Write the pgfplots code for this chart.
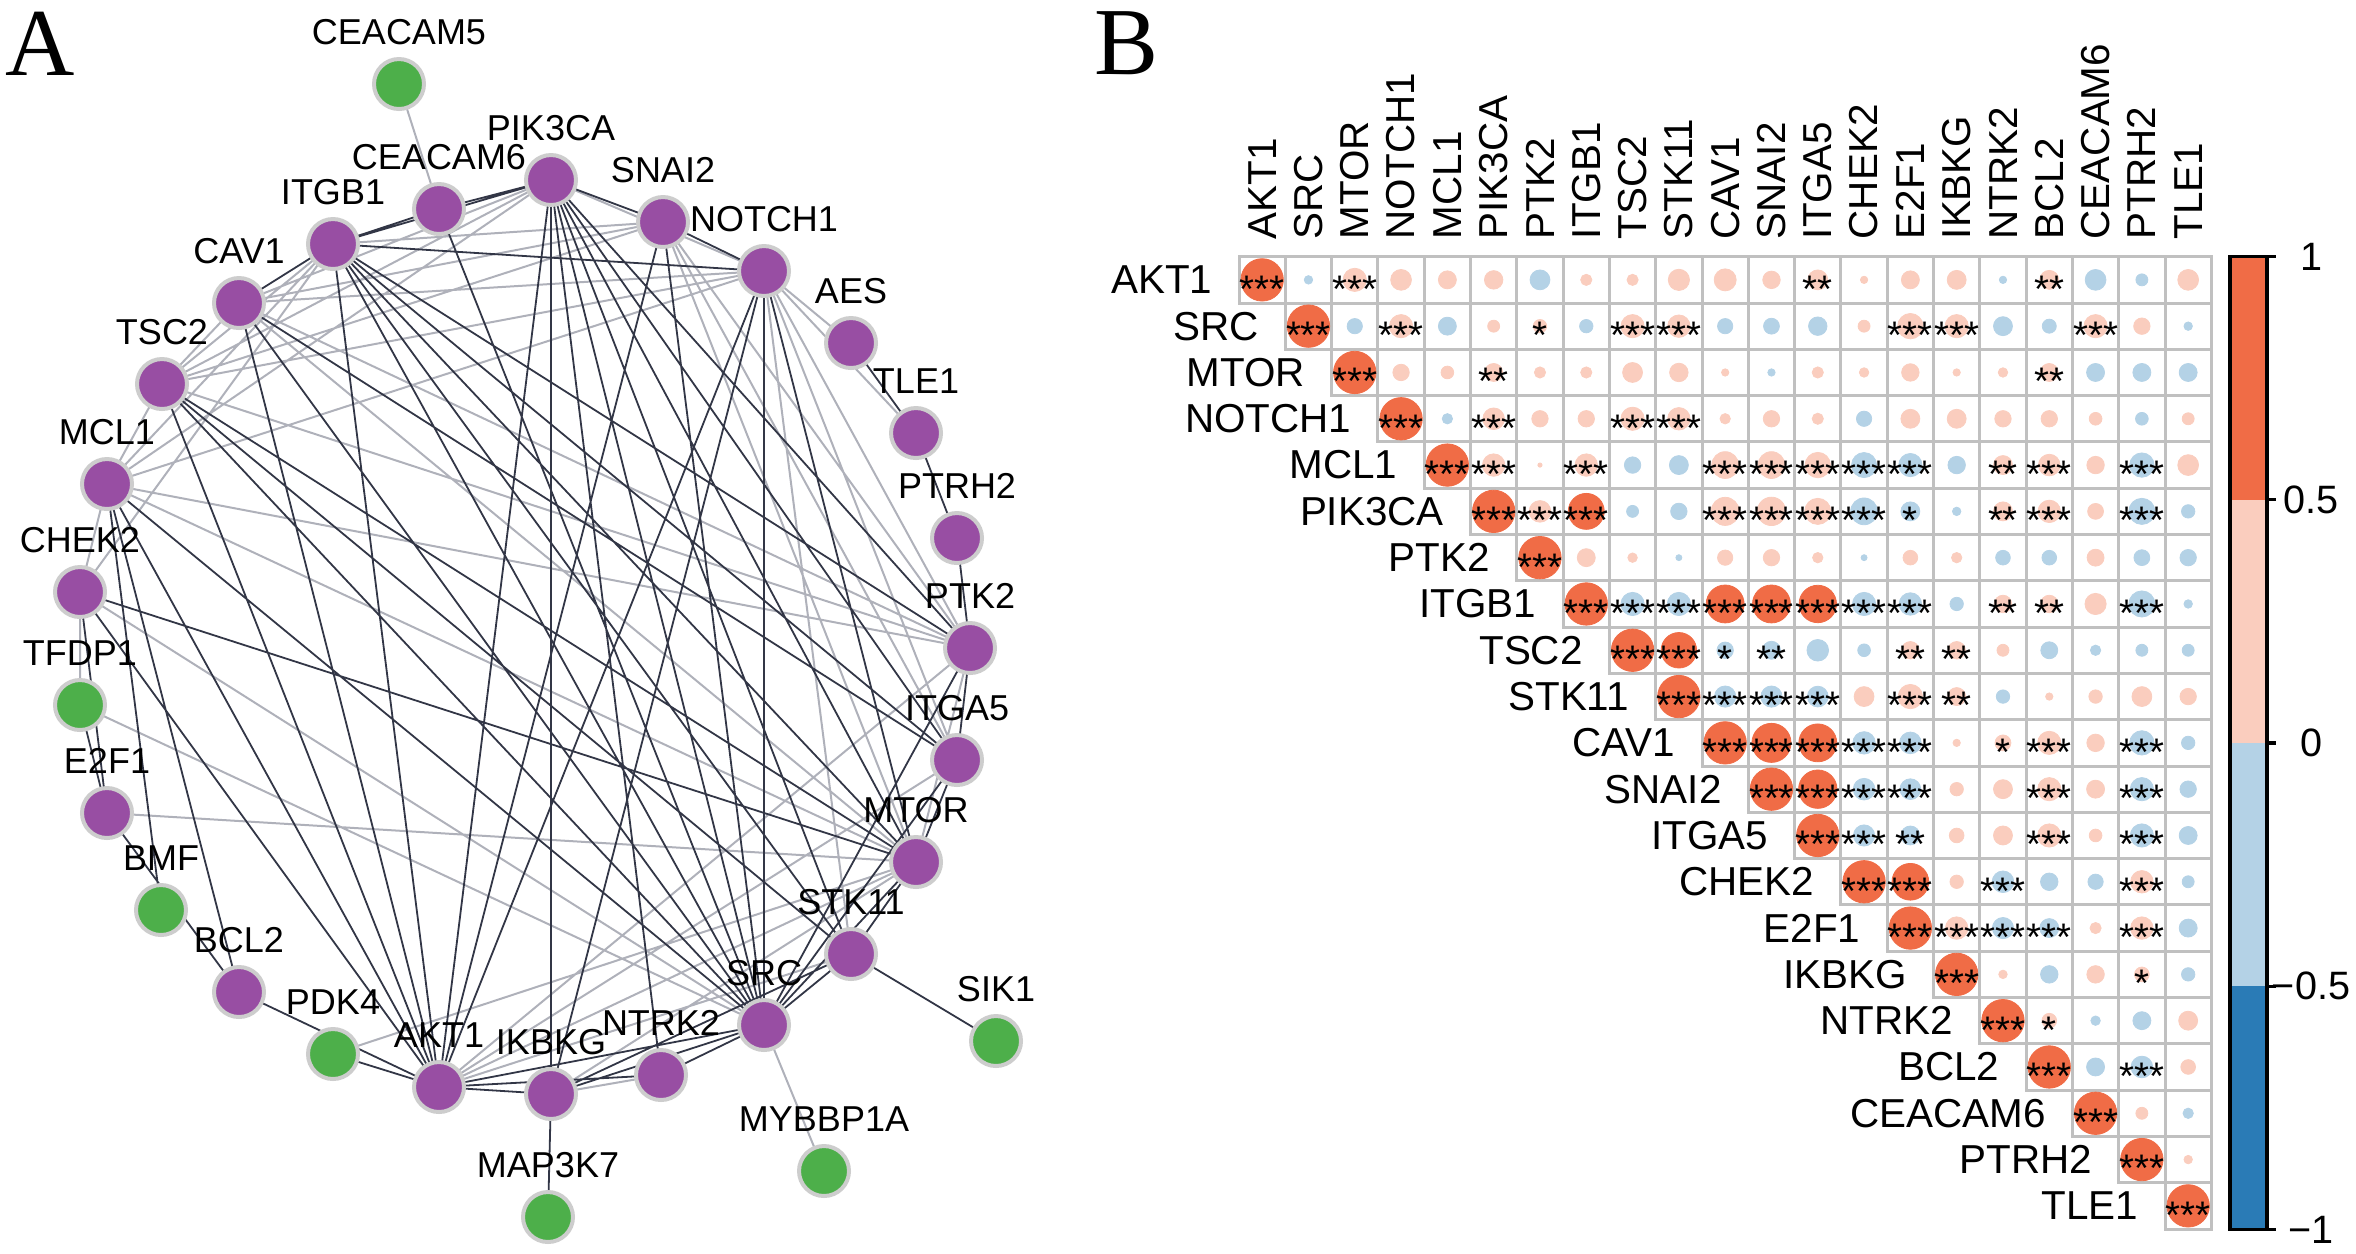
\documentclass[border=0pt]{standalone}
\usepackage{pgfplots}
\pgfplotsset{compat=1.18}
\usepackage{pgfplotstable}
\usepackage{fontspec}
\setmainfont{Liberation Sans}
\newfontfamily\serifff{Liberation Serif}
\definecolor{cOr}{RGB}{240,108,70}
\definecolor{cPk}{RGB}{250,205,190}
\definecolor{cLb}{RGB}{180,210,230}
\definecolor{cDb}{RGB}{42,123,182}
\definecolor{cGrid}{RGB}{192,192,192}
\definecolor{cDark}{RGB}{50,54,70}
\definecolor{cLight}{RGB}{175,177,186}
\definecolor{cPur}{RGB}{152,78,163}
\definecolor{cGrn}{RGB}{77,175,74}
\definecolor{cBord}{RGB}{205,205,205}
\newcommand\fB{\fontsize{10.1}{12}\selectfont}
\newcommand\fA{\fontsize{9}{11}\selectfont}

\pgfplotstableread{
r c v p
0 0 1 3
0 1 -0.04 0
0 2 0.30 3
0 3 0.24 0
0 4 0.18 0
0 5 0.19 0
0 6 -0.22 0
0 7 0.07 0
0 8 0.07 0
0 9 0.25 0
0 10 0.27 0
0 11 0.17 0
0 12 0.22 2
0 13 0.03 0
0 14 0.18 0
0 15 0.20 0
0 16 -0.03 0
0 17 0.20 2
0 18 -0.24 0
0 19 -0.08 0
0 20 0.24 0
1 1 1 3
1 2 -0.13 0
1 3 0.30 3
1 4 -0.18 0
1 5 0.08 0
1 6 0.10 1
1 7 -0.10 0
1 8 0.30 3
1 9 0.28 3
1 10 -0.13 0
1 11 -0.14 0
1 12 -0.19 0
1 13 0.08 0
1 14 0.36 3
1 15 0.30 3
1 16 -0.20 0
1 17 -0.11 0
1 18 0.30 3
1 19 0.15 0
1 20 -0.04 0
2 2 1 3
2 3 0.15 0
2 4 0.09 0
2 5 0.18 2
2 6 0.07 0
2 7 0.07 0
2 8 0.22 0
2 9 0.19 0
2 10 0.03 0
2 11 -0.03 0
2 12 0.07 0
2 13 0.05 0
2 14 0.17 0
2 15 0.03 0
2 16 0.05 0
2 17 0.18 2
2 18 -0.18 0
2 19 -0.18 0
2 20 -0.18 0
3 3 1 3
3 4 -0.06 0
3 5 0.26 3
3 6 0.15 0
3 7 0.15 0
3 8 0.30 3
3 9 0.28 3
3 10 0.06 0
3 11 0.15 0
3 12 0.07 0
3 13 -0.13 0
3 14 0.20 0
3 15 0.20 0
3 16 0.15 0
3 17 0.15 0
3 18 0.09 0
3 19 -0.09 0
3 20 0.08 0
4 4 1 3
4 5 0.28 3
4 6 0.01 0
4 7 0.28 3
4 8 -0.15 0
4 9 -0.20 0
4 10 0.40 3
4 11 0.40 3
4 12 0.36 3
4 13 -0.35 3
4 14 -0.30 3
4 15 -0.17 0
4 16 0.20 2
4 17 0.26 3
4 18 0.17 0
4 19 -0.33 3
4 20 0.24 0
5 5 1 3
5 6 0.26 3
5 7 0.72 3
5 8 -0.08 0
5 9 -0.15 0
5 10 0.44 3
5 11 0.45 3
5 12 0.38 3
5 13 -0.40 3
5 14 -0.20 1
5 15 -0.04 0
5 16 0.20 2
5 17 0.28 3
5 18 0.14 0
5 19 -0.38 3
5 20 -0.10 0
6 6 1 3
6 7 0.18 0
6 8 0.05 0
6 9 -0.02 0
6 10 0.13 0
6 11 0.15 0
6 12 0.06 0
6 13 -0.02 0
6 14 0.12 0
6 15 0.06 0
6 16 -0.12 0
6 17 -0.12 0
6 18 0.16 0
6 19 -0.14 0
6 20 -0.15 0
7 7 1 3
7 8 -0.30 3
7 9 -0.30 3
7 10 0.80 3
7 11 0.80 3
7 12 0.78 3
7 13 -0.30 3
7 14 -0.28 3
7 15 -0.10 0
7 16 0.17 2
7 17 0.17 2
7 18 0.25 0
7 19 -0.38 3
7 20 -0.04 0
8 8 1 3
8 9 0.70 3
8 10 -0.15 1
8 11 -0.18 2
8 12 -0.26 0
8 13 -0.09 0
8 14 0.17 2
8 15 0.17 2
8 16 0.08 0
8 17 -0.16 0
8 18 -0.06 0
8 19 -0.08 0
8 20 -0.08 0
9 9 1 3
9 10 -0.25 3
9 11 -0.25 3
9 12 -0.24 3
9 13 0.22 0
9 14 0.33 3
9 15 0.18 2
9 16 -0.10 0
9 17 0.03 0
9 18 0.10 0
9 19 0.22 0
9 20 0.15 0
10 10 1 3
10 11 0.85 3
10 12 0.80 3
10 13 -0.28 3
10 14 -0.26 3
10 15 0.03 0
10 16 0.14 1
10 17 0.30 3
10 18 0.17 0
10 19 -0.33 3
10 20 -0.10 0
11 11 1 3
11 12 0.82 3
11 13 -0.26 3
11 14 -0.24 3
11 15 0.10 0
11 16 0.20 0
11 17 0.30 3
11 18 0.18 0
11 19 -0.30 3
11 20 -0.15 0
12 12 1 3
12 13 -0.25 3
12 14 -0.20 2
12 15 0.12 0
12 16 0.20 0
12 17 0.30 3
12 18 0.09 0
12 19 -0.30 3
12 20 -0.18 0
13 13 1 3
13 14 0.75 3
13 15 0.10 0
13 16 -0.26 3
13 17 -0.17 0
13 18 -0.13 0
13 19 0.28 3
13 20 -0.08 0
14 14 1 3
14 15 0.28 3
14 16 -0.25 3
14 17 -0.20 3
14 18 0.07 0
14 19 0.28 3
14 20 -0.18 0
15 15 1 3
15 16 0.04 0
15 17 -0.17 0
15 18 0.17 0
15 19 0.12 1
15 20 -0.10 0
16 16 1 3
16 17 0.12 1
16 18 -0.05 0
16 19 -0.18 0
16 20 0.20 0
17 17 1 3
17 18 -0.18 0
17 19 -0.26 3
17 20 0.12 0
18 18 1 3
18 19 0.08 0
18 20 -0.06 0
19 19 1 3
19 20 0.04 0
20 20 1 3
}\corrtab

\pgfplotstableread{
i name
0 AKT1
1 SRC
2 MTOR
3 NOTCH1
4 MCL1
5 PIK3CA
6 PTK2
7 ITGB1
8 TSC2
9 STK11
10 CAV1
11 SNAI2
12 ITGA5
13 CHEK2
14 E2F1
15 IKBKG
16 NTRK2
17 BCL2
18 CEACAM6
19 PTRH2
20 TLE1
}\genes

\pgfplotstableread{
x y g name
399 84 1 CEACAM5
551 180 0 PIK3CA
439 209 0 CEACAM6
663 222 0 SNAI2
333 244 0 ITGB1
764 271 0 NOTCH1
239 303 0 CAV1
851 343 0 AES
162 384 0 TSC2
916 433 0 TLE1
107 484 0 MCL1
957 538 0 PTRH2
80 592 0 CHEK2
970 648 0 PTK2
80 705 1 TFDP1
957 760 0 ITGA5
107 813 0 E2F1
916 862 0 MTOR
161 910 1 BMF
851 954 0 STK11
239 992 0 BCL2
764 1025 0 SRC
996 1041 1 SIK1
333 1054 1 PDK4
661 1075 0 NTRK2
439 1087 0 AKT1
551 1094 0 IKBKG
824 1171 1 MYBBP1A
548 1217 1 MAP3K7
}\netnodes

\pgfplotstableread{
v lab
1 1
0.5 0.5
0 0
-0.5 −0.5
-1 −1
}\cbticks

\pgfplotsset{
  corrc/.style={scatter, only marks, mark=*, point meta=\thisrow{v},
    scatter/use mapped color={draw=#1, fill=#1},
    visualization depends on={5.3*sqrt(abs(\thisrow{v}))\as\rad},
    scatter/@pre marker code/.append style={/tikz/mark size=\rad},
    mark options={line width=0.2pt}},
  starplot/.style={draw=none, mark=none, nodes near coords={#1},
    every node near coord/.append style={anchor=center, inner sep=0pt, yshift=-2.3pt, text=black, font=\fontsize{9.6}{10}\selectfont}},
}

\begin{document}
\begin{tikzpicture}
\useasboundingbox (0,0) rectangle (589pt,-313.25pt);
\begin{axis}[at={(0pt,0pt)}, anchor=north west, scale only axis,
  width=589pt, height=313.25pt, xmin=0, xmax=2356, ymin=0, ymax=1253,
  y dir=reverse, hide axis, clip=false, unbounded coords=jump]

% ---------- Panel A: network ----------
\addplot[cLight, line width=0.5pt, mark=none] coordinates {
(399,84)(439,209) (nan,nan)
(333,244)(663,222) (nan,nan)
(333,244)(107,484) (nan,nan)
(333,244)(162,384) (nan,nan)
(551,180)(764,271) (nan,nan)
(551,180)(239,303) (nan,nan)
(551,180)(162,384) (nan,nan)
(551,180)(107,484) (nan,nan)
(663,222)(239,303) (nan,nan)
(663,222)(916,862) (nan,nan)
(663,222)(162,384) (nan,nan)
(663,222)(957,760) (nan,nan)
(663,222)(970,648) (nan,nan)
(764,271)(239,303) (nan,nan)
(764,271)(162,384) (nan,nan)
(764,271)(107,484) (nan,nan)
(764,271)(851,343) (nan,nan)
(764,271)(916,433) (nan,nan)
(764,271)(851,954) (nan,nan)
(764,271)(970,648) (nan,nan)
(764,271)(957,760) (nan,nan)
(239,303)(162,384) (nan,nan)
(239,303)(916,862) (nan,nan)
(239,303)(970,648) (nan,nan)
(162,384)(970,648) (nan,nan)
(162,384)(107,484) (nan,nan)
(107,484)(916,862) (nan,nan)
(107,484)(970,648) (nan,nan)
(107,484)(80,592) (nan,nan)
(80,592)(80,705) (nan,nan)
(80,592)(333,244) (nan,nan)
(80,592)(764,1025) (nan,nan)
(107,813)(916,862) (nan,nan)
(80,705)(764,1025) (nan,nan)
(333,1054)(916,862) (nan,nan)
(439,1087)(851,954) (nan,nan)
(439,1087)(916,862) (nan,nan)
(439,1087)(957,760) (nan,nan)
(439,1087)(970,648) (nan,nan)
(551,1094)(661,1075) (nan,nan)
(551,1094)(916,862) (nan,nan)
(764,1025)(824,1171) (nan,nan)
(916,862)(970,648)
};
\addplot[cDark, line width=0.45pt, mark=none] coordinates {
(439,209)(333,244) (nan,nan)
(439,209)(551,180) (nan,nan)
(439,209)(764,1025) (nan,nan)
(333,244)(551,180) (nan,nan)
(333,244)(239,303) (nan,nan)
(333,244)(764,271) (nan,nan)
(333,244)(439,1087) (nan,nan)
(333,244)(764,1025) (nan,nan)
(333,244)(916,862) (nan,nan)
(333,244)(851,954) (nan,nan)
(333,244)(957,760) (nan,nan)
(333,244)(970,648) (nan,nan)
(551,180)(663,222) (nan,nan)
(551,180)(439,1087) (nan,nan)
(551,180)(551,1094) (nan,nan)
(551,180)(661,1075) (nan,nan)
(551,180)(764,1025) (nan,nan)
(551,180)(851,954) (nan,nan)
(551,180)(916,862) (nan,nan)
(551,180)(957,760) (nan,nan)
(551,180)(970,648) (nan,nan)
(663,222)(764,271) (nan,nan)
(663,222)(439,1087) (nan,nan)
(663,222)(764,1025) (nan,nan)
(764,271)(439,1087) (nan,nan)
(764,271)(764,1025) (nan,nan)
(764,271)(916,862) (nan,nan)
(764,271)(551,1094) (nan,nan)
(851,343)(916,433) (nan,nan)
(916,433)(957,538) (nan,nan)
(957,538)(970,648) (nan,nan)
(239,303)(439,1087) (nan,nan)
(239,303)(764,1025) (nan,nan)
(239,303)(957,760) (nan,nan)
(162,384)(439,1087) (nan,nan)
(162,384)(764,1025) (nan,nan)
(162,384)(851,954) (nan,nan)
(162,384)(916,862) (nan,nan)
(107,484)(239,992) (nan,nan)
(107,484)(161,910) (nan,nan)
(107,484)(439,1087) (nan,nan)
(107,484)(764,1025) (nan,nan)
(80,592)(107,813) (nan,nan)
(80,592)(439,1087) (nan,nan)
(80,592)(916,862) (nan,nan)
(80,705)(107,813) (nan,nan)
(107,813)(239,992) (nan,nan)
(239,992)(439,1087) (nan,nan)
(333,1054)(439,1087) (nan,nan)
(439,1087)(551,1094) (nan,nan)
(439,1087)(661,1075) (nan,nan)
(439,1087)(764,1025) (nan,nan)
(551,1094)(764,1025) (nan,nan)
(551,1094)(548,1217) (nan,nan)
(551,1094)(851,954) (nan,nan)
(661,1075)(764,1025) (nan,nan)
(764,1025)(851,954) (nan,nan)
(764,1025)(916,862) (nan,nan)
(764,1025)(957,760) (nan,nan)
(764,1025)(970,648) (nan,nan)
(851,954)(996,1041) (nan,nan)
(851,954)(916,862) (nan,nan)
(916,862)(957,760) (nan,nan)
(957,760)(970,648)
};
\addplot[only marks, mark=*, mark size=6.25pt,
  mark options={draw=cBord, fill=cPur, line width=1pt},
  restrict expr to domain={\thisrow{g}}{-0.5:0.5}] table[x=x, y=y] {\netnodes};
\addplot[only marks, mark=*, mark size=6.25pt,
  mark options={draw=cBord, fill=cGrn, line width=1pt},
  restrict expr to domain={\thisrow{g}}{0.5:1.5}] table[x=x, y=y] {\netnodes};
\addplot[draw=none, mark=none, nodes near coords, point meta=explicit symbolic,
  every node near coord/.append style={anchor=center, yshift=13pt, inner sep=0pt, text=black, font=\fA}]
  table[x=x, y=y, meta=name] {\netnodes};

\node[anchor=base west, inner sep=0pt, font=\serifff\fontsize{24}{26}\selectfont] at (axis cs:5,75) {A};
\node[anchor=base west, inner sep=0pt, font=\serifff\fontsize{24}{26}\selectfont] at (axis cs:1094,74) {B};

% ---------- Panel B: correlation matrix ----------
\addplot[only marks, mark=square, mark size=5.79pt,
  mark options={draw=cGrid, line width=0.75pt, fill=none}]
  table[x expr=1262.15+46.3*\thisrow{c}, y expr=279.85+46.3*\thisrow{r}] {\corrtab};
\addplot[corrc=cOr, restrict expr to domain={\thisrow{v}}{0.5:1.5}]
  table[x expr=1262.15+46.3*\thisrow{c}, y expr=279.85+46.3*\thisrow{r}] {\corrtab};
\addplot[corrc=cPk, restrict expr to domain={\thisrow{v}}{0:0.4999}]
  table[x expr=1262.15+46.3*\thisrow{c}, y expr=279.85+46.3*\thisrow{r}] {\corrtab};
\addplot[corrc=cLb, restrict expr to domain={\thisrow{v}}{-0.4999:-0.0001}]
  table[x expr=1262.15+46.3*\thisrow{c}, y expr=279.85+46.3*\thisrow{r}] {\corrtab};
\addplot[starplot={*}, restrict expr to domain={\thisrow{p}}{0.5:1.5}]
  table[x expr=1262.15+46.3*\thisrow{c}, y expr=279.85+46.3*\thisrow{r}] {\corrtab};
\addplot[starplot={**}, restrict expr to domain={\thisrow{p}}{1.5:2.5}]
  table[x expr=1262.15+46.3*\thisrow{c}, y expr=279.85+46.3*\thisrow{r}] {\corrtab};
\addplot[starplot={***}, restrict expr to domain={\thisrow{p}}{2.5:3.5}]
  table[x expr=1262.15+46.3*\thisrow{c}, y expr=279.85+46.3*\thisrow{r}] {\corrtab};

% row labels
\addplot[draw=none, mark=none, nodes near coords, point meta=explicit symbolic,
  every node near coord/.append style={anchor=east, inner sep=0pt, text=black, font=\fB}]
  table[x expr=1213+46.3*\thisrow{i}, y expr=279.85+46.3*\thisrow{i}, meta=name] {\genes};
% column labels
\addplot[draw=none, mark=none, nodes near coords, point meta=explicit symbolic,
  every node near coord/.append style={anchor=west, rotate=90, inner sep=0pt, text=black, font=\fB}]
  table[x expr=1262.15+46.3*\thisrow{i}, y expr=240, meta=name] {\genes};

% ---------- colour bar ----------
\addplot[fill=cOr, draw=none, mark=none] coordinates {(2230,256.5)(2267,256.5)(2267,499.75)(2230,499.75)};
\addplot[fill=cPk, draw=none, mark=none] coordinates {(2230,499.75)(2267,499.75)(2267,743)(2230,743)};
\addplot[fill=cLb, draw=none, mark=none] coordinates {(2230,743)(2267,743)(2267,986.25)(2230,986.25)};
\addplot[fill=cDb, draw=none, mark=none] coordinates {(2230,986.25)(2267,986.25)(2267,1229.5)(2230,1229.5)};
\addplot[black, line width=0.85pt, mark=none, line join=miter] coordinates {(2230,256.5)(2267,256.5)(2267,1229.5)(2230,1229.5)(2230,256.5)(2267,256.5)};
\addplot[black, line width=0.85pt, mark=none] coordinates {
(2267,256.5)(2276,256.5) (nan,nan)
(2267,499.75)(2276,499.75) (nan,nan)
(2267,743)(2276,743) (nan,nan)
(2267,986.25)(2276,986.25) (nan,nan)
(2267,1229.5)(2276,1229.5)};
\addplot[draw=none, mark=none, nodes near coords, point meta=explicit symbolic,
  every node near coord/.append style={anchor=center, inner sep=0pt, text=black, font=\fontsize{9.9}{11}\selectfont}]
  table[x expr=2311, y expr=743-486.5*\thisrow{v}, meta=lab] {\cbticks};
\end{axis}
\end{tikzpicture}
\end{document}
